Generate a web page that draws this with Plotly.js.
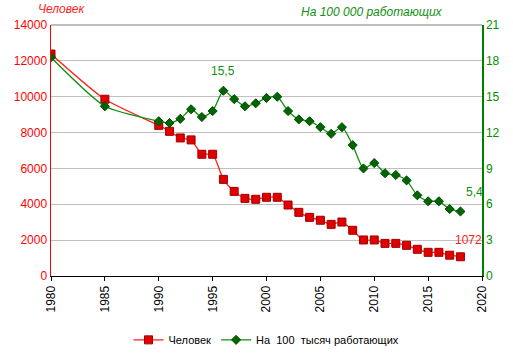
<!DOCTYPE html>
<html><head><meta charset="utf-8">
<script src="https://cdn.plot.ly/plotly-3.0.1.min.js"></script>
<style>html,body{margin:0;padding:0;background:#fff}#c{width:513px;height:357px}</style>
</head><body><div id="c"></div>
<script>
const years = [1980,1985,1990,1991,1992,1993,1994,1995,1996,1997,1998,1999,2000,2001,2002,2003,2004,2005,2006,2007,2008,2009,2010,2011,2012,2013,2014,2015,2016,2017,2018];
const persons = [12380,9860,8400,8070,7700,7590,6790,6790,5390,4720,4330,4280,4390,4390,3960,3550,3270,3110,2880,3010,2550,2010,2010,1820,1820,1710,1490,1320,1320,1160,1072];
const per100k = [18.3,14.2,12.95,12.8,13.15,13.95,13.3,13.8,15.5,14.8,14.2,14.45,14.9,15.0,13.8,13.1,12.95,12.45,11.9,12.45,10.95,9.0,9.45,8.6,8.45,8.0,6.75,6.25,6.25,5.6,5.4];
const xTicks = [1980,1985,1990,1995,2000,2005,2010,2015,2020];
const yLeftTicks = [0,2000,4000,6000,8000,10000,12000,14000];
const yRightTicks = [0,3,6,9,12,15,18,21];

const F = "Liberation Sans, Arial, sans-serif";
const data = [
  {x: years, y: persons, name: 'Человек', type: 'scatter', mode: 'lines+markers',
   line: {color: '#ff2020', width: 1.3, shape: 'spline', smoothing: 0.6},
   marker: {symbol: 'square', size: 8, color: '#e00000', line: {color: '#a00000', width: 1}}, yaxis: 'y'},
  {x: years, y: per100k, name: 'На  100  тысяч работающих', type: 'scatter', mode: 'lines+markers',
   line: {color: '#109010', width: 1.3, shape: 'spline', smoothing: 0.6},
   marker: {symbol: 'diamond', size: 7, color: '#006400', line: {color: '#004d00', width: 1}}, yaxis: 'y2'}
];
const layout = {
  width: 513, height: 357,
  margin: {l: 51, r: 31, t: 25, b: 81, autoexpand: false},
  paper_bgcolor: '#fff', plot_bgcolor: '#fff',
  font: {family: F, size: 12, color: '#000'},
  showlegend: true,
  legend: {orientation: 'h', x: 0.5, xref: 'paper', xanchor: 'center', yref: 'container', y: 0.048, yanchor: 'middle',
    font: {family: F, size: 11, color: '#000'}},
  xaxis: {range: [1980, 2020], tickvals: xTicks, ticktext: xTicks.map(String), tickangle: -90,
    showgrid: false, zeroline: false, showline: true, linecolor: '#000', linewidth: 1, automargin: false,
    ticks: 'outside', ticklen: 4, tickcolor: '#000', tickfont: {family: F, size: 12, color: '#000'}, mirror: false},
  yaxis: {range: [0, 14000], tickvals: yLeftTicks, ticktext: yLeftTicks.map(String), showgrid: true, gridcolor: '#c0c0c0', gridwidth: 1,
    zeroline: false, showline: true, linecolor: '#ff0000', linewidth: 1.5, ticks: '', automargin: false,
    tickfont: {family: F, size: 12, color: '#ff0000'}},
  yaxis2: {range: [0, 21], tickvals: yRightTicks, ticktext: yRightTicks.map(String), overlaying: 'y', side: 'right', showgrid: false,
    zeroline: false, showline: true, linecolor: '#008000', linewidth: 1.5, ticks: '', automargin: false,
    tickfont: {family: F, size: 12, color: '#009000'}},
  shapes: [{type: 'line', xref: 'paper', yref: 'paper', x0: 0, x1: 1, y0: 1, y1: 1, line: {color: '#808080', width: 1}}],
  annotations: [
    {xref: 'paper', yref: 'paper', x: -0.035, y: 1.065, xanchor: 'left', yanchor: 'middle', showarrow: false,
     text: '<i>Человек</i>', font: {family: F, size: 12, color: '#ff2020'}},
    {xref: 'paper', yref: 'paper', x: 0.915, y: 1.05, xanchor: 'right', yanchor: 'middle', showarrow: false,
     text: '<i>На 100 000 работающих</i>', font: {family: F, size: 12, color: '#109010'}},
    {x: 1996, y: 15.5, xref: 'x', yref: 'y2', yshift: 20, showarrow: false, text: '15,5', font: {family: F, size: 12, color: '#109010'}},
    {x: 2018, y: 5.4, xref: 'x', yref: 'y2', xshift: 14, yshift: 19, showarrow: false, text: '5,4', font: {family: F, size: 12, color: '#109010'}},
    {x: 2018, y: 1072, xref: 'x', yref: 'y', xshift: 8, yshift: 17, showarrow: false, text: '1072', font: {family: F, size: 12, color: '#ff2020'}}
  ]
};
Plotly.newPlot('c', data, layout, {displayModeBar: false, staticPlot: true});
</script></body></html>
